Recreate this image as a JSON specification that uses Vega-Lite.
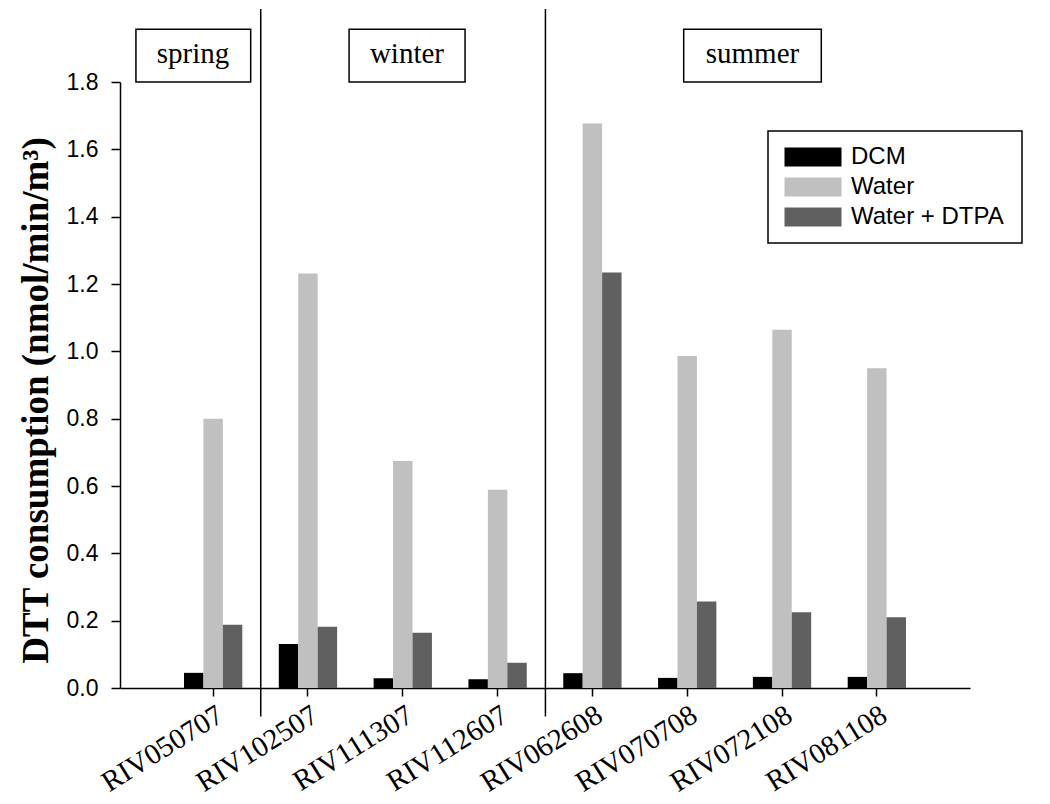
{
  "$schema": "https://vega.github.io/schema/vega-lite/v6.json",
  "width": 850,
  "height": 606,
  "autosize": {"type": "none"},
  "padding": {"left": 120, "top": 82, "right": 80, "bottom": 116},
  "background": "white",
  "config": {"view": {"stroke": null}, "axis": {"grid": false}},
  "datasets": {
    "bars": [
      {"sample": "RIV050707", "season": "spring", "extract": "DCM", "value": 0.045},
      {"sample": "RIV050707", "season": "spring", "extract": "Water", "value": 0.800},
      {"sample": "RIV050707", "season": "spring", "extract": "Water + DTPA", "value": 0.188},
      {"sample": "RIV102507", "season": "winter", "extract": "DCM", "value": 0.131},
      {"sample": "RIV102507", "season": "winter", "extract": "Water", "value": 1.231},
      {"sample": "RIV102507", "season": "winter", "extract": "Water + DTPA", "value": 0.182},
      {"sample": "RIV111307", "season": "winter", "extract": "DCM", "value": 0.029},
      {"sample": "RIV111307", "season": "winter", "extract": "Water", "value": 0.674},
      {"sample": "RIV111307", "season": "winter", "extract": "Water + DTPA", "value": 0.164},
      {"sample": "RIV112607", "season": "winter", "extract": "DCM", "value": 0.026},
      {"sample": "RIV112607", "season": "winter", "extract": "Water", "value": 0.589},
      {"sample": "RIV112607", "season": "winter", "extract": "Water + DTPA", "value": 0.075},
      {"sample": "RIV062608", "season": "summer", "extract": "DCM", "value": 0.044},
      {"sample": "RIV062608", "season": "summer", "extract": "Water", "value": 1.677},
      {"sample": "RIV062608", "season": "summer", "extract": "Water + DTPA", "value": 1.234},
      {"sample": "RIV070708", "season": "summer", "extract": "DCM", "value": 0.030},
      {"sample": "RIV070708", "season": "summer", "extract": "Water", "value": 0.986},
      {"sample": "RIV070708", "season": "summer", "extract": "Water + DTPA", "value": 0.257},
      {"sample": "RIV072108", "season": "summer", "extract": "DCM", "value": 0.033},
      {"sample": "RIV072108", "season": "summer", "extract": "Water", "value": 1.064},
      {"sample": "RIV072108", "season": "summer", "extract": "Water + DTPA", "value": 0.225},
      {"sample": "RIV081108", "season": "summer", "extract": "DCM", "value": 0.033},
      {"sample": "RIV081108", "season": "summer", "extract": "Water", "value": 0.950},
      {"sample": "RIV081108", "season": "summer", "extract": "Water + DTPA", "value": 0.210}
    ],
    "seasons": [
      {"season": "spring", "mid": -0.214, "x0": -0.815, "x1": 0.394},
      {"season": "winter", "mid": 2.041, "x0": 1.431, "x1": 2.653},
      {"season": "summer", "mid": 5.682, "x0": 4.957, "x1": 6.407}
    ],
    "dividers": [{"pos": 0.5}, {"pos": 3.5}]
  },
  "layer": [
    {
      "data": {"name": "bars"},
      "mark": {"type": "bar"},
      "encoding": {
        "x": {
          "field": "sample", "type": "nominal", "sort": null,
          "scale": {"paddingInner": 0.385, "paddingOuter": 0.675},
          "axis": {
            "title": null, "labelAngle": -32, "labelFont": "Liberation Serif", "labelFontSize": 29,
            "labelColor": "black", "domainColor": "black", "domainWidth": 1.5,
            "tickColor": "black", "tickWidth": 1.5, "tickSize": 8, "labelPadding": 4, "labelLimit": 0
          }
        },
        "xOffset": {
          "field": "extract", "type": "nominal", "sort": ["DCM", "Water", "Water + DTPA"],
          "scale": {"paddingInner": 0, "paddingOuter": 0}
        },
        "y": {
          "field": "value", "type": "quantitative",
          "scale": {"domain": [0, 1.8], "nice": false},
          "axis": {
            "values": [0, 0.2, 0.4, 0.6, 0.8, 1.0, 1.2, 1.4, 1.6, 1.8], "format": ".1f",
            "title": "DTT consumption (nmol/min/m³)", "titleFont": "Liberation Serif", "titleFontSize": 37,
            "titleFontWeight": "bold", "titleColor": "black", "titleAngle": -90, "titleX": -84, "titleY": 318,
            "titleAlign": "center", "titleBaseline": "middle",
            "labelFont": "Liberation Sans", "labelFontSize": 23, "labelColor": "black",
            "tickSize": 9, "labelPadding": 13, "domainColor": "black", "domainWidth": 1.5,
            "tickColor": "black", "tickWidth": 1.5
          }
        },
        "color": {
          "field": "extract", "type": "nominal",
          "scale": {"domain": ["DCM", "Water", "Water + DTPA"], "range": ["#000000", "#c0c0c0", "#606060"]},
          "legend": {
            "title": "\u00a0", "titleOrient": "right", "titlePadding": 4, "titleFontSize": 12,
            "orient": "none", "legendX": 648, "legendY": 49,
            "strokeColor": "black", "fillColor": "white", "padding": 14,
            "labelFont": "Liberation Sans", "labelFontSize": 24, "labelColor": "black",
            "symbolType": "M-1,-1H5V1H-1Z", "symbolSize": 361, "symbolStrokeWidth": 0, "symbolOpacity": 1,
            "labelOffset": 45, "rowPadding": 6,
            "encode": {"legend": {"update": {"strokeWidth": {"value": 1.5}}}}
          }
        }
      }
    },
    {
      "data": {"name": "dividers"},
      "mark": {"type": "rule", "color": "black", "strokeWidth": 1.5},
      "encoding": {
        "x": {"field": "pos", "type": "quantitative", "scale": {"domain": [-0.983, 7.974], "nice": false, "zero": false}, "axis": null},
        "y": {"datum": 2.017},
        "y2": {"datum": -0.085}
      }
    },
    {
      "data": {"name": "seasons"},
      "mark": {"type": "rect", "fill": "white", "stroke": "black", "strokeWidth": 1.5},
      "encoding": {
        "x": {"field": "x0", "type": "quantitative", "scale": {"domain": [-0.983, 7.974], "nice": false, "zero": false}, "axis": null},
        "x2": {"field": "x1"},
        "y": {"datum": 1.957},
        "y2": {"datum": 1.8}
      }
    },
    {
      "data": {"name": "seasons"},
      "mark": {"type": "text", "font": "Liberation Serif", "fontSize": 29, "color": "black", "baseline": "alphabetic", "align": "center"},
      "encoding": {
        "x": {"field": "mid", "type": "quantitative", "scale": {"domain": [-0.983, 7.974], "nice": false, "zero": false}, "axis": null},
        "y": {"datum": 1.856},
        "text": {"field": "season"}
      }
    }
  ],
  "resolve": {"scale": {"x": "independent"}}
}
